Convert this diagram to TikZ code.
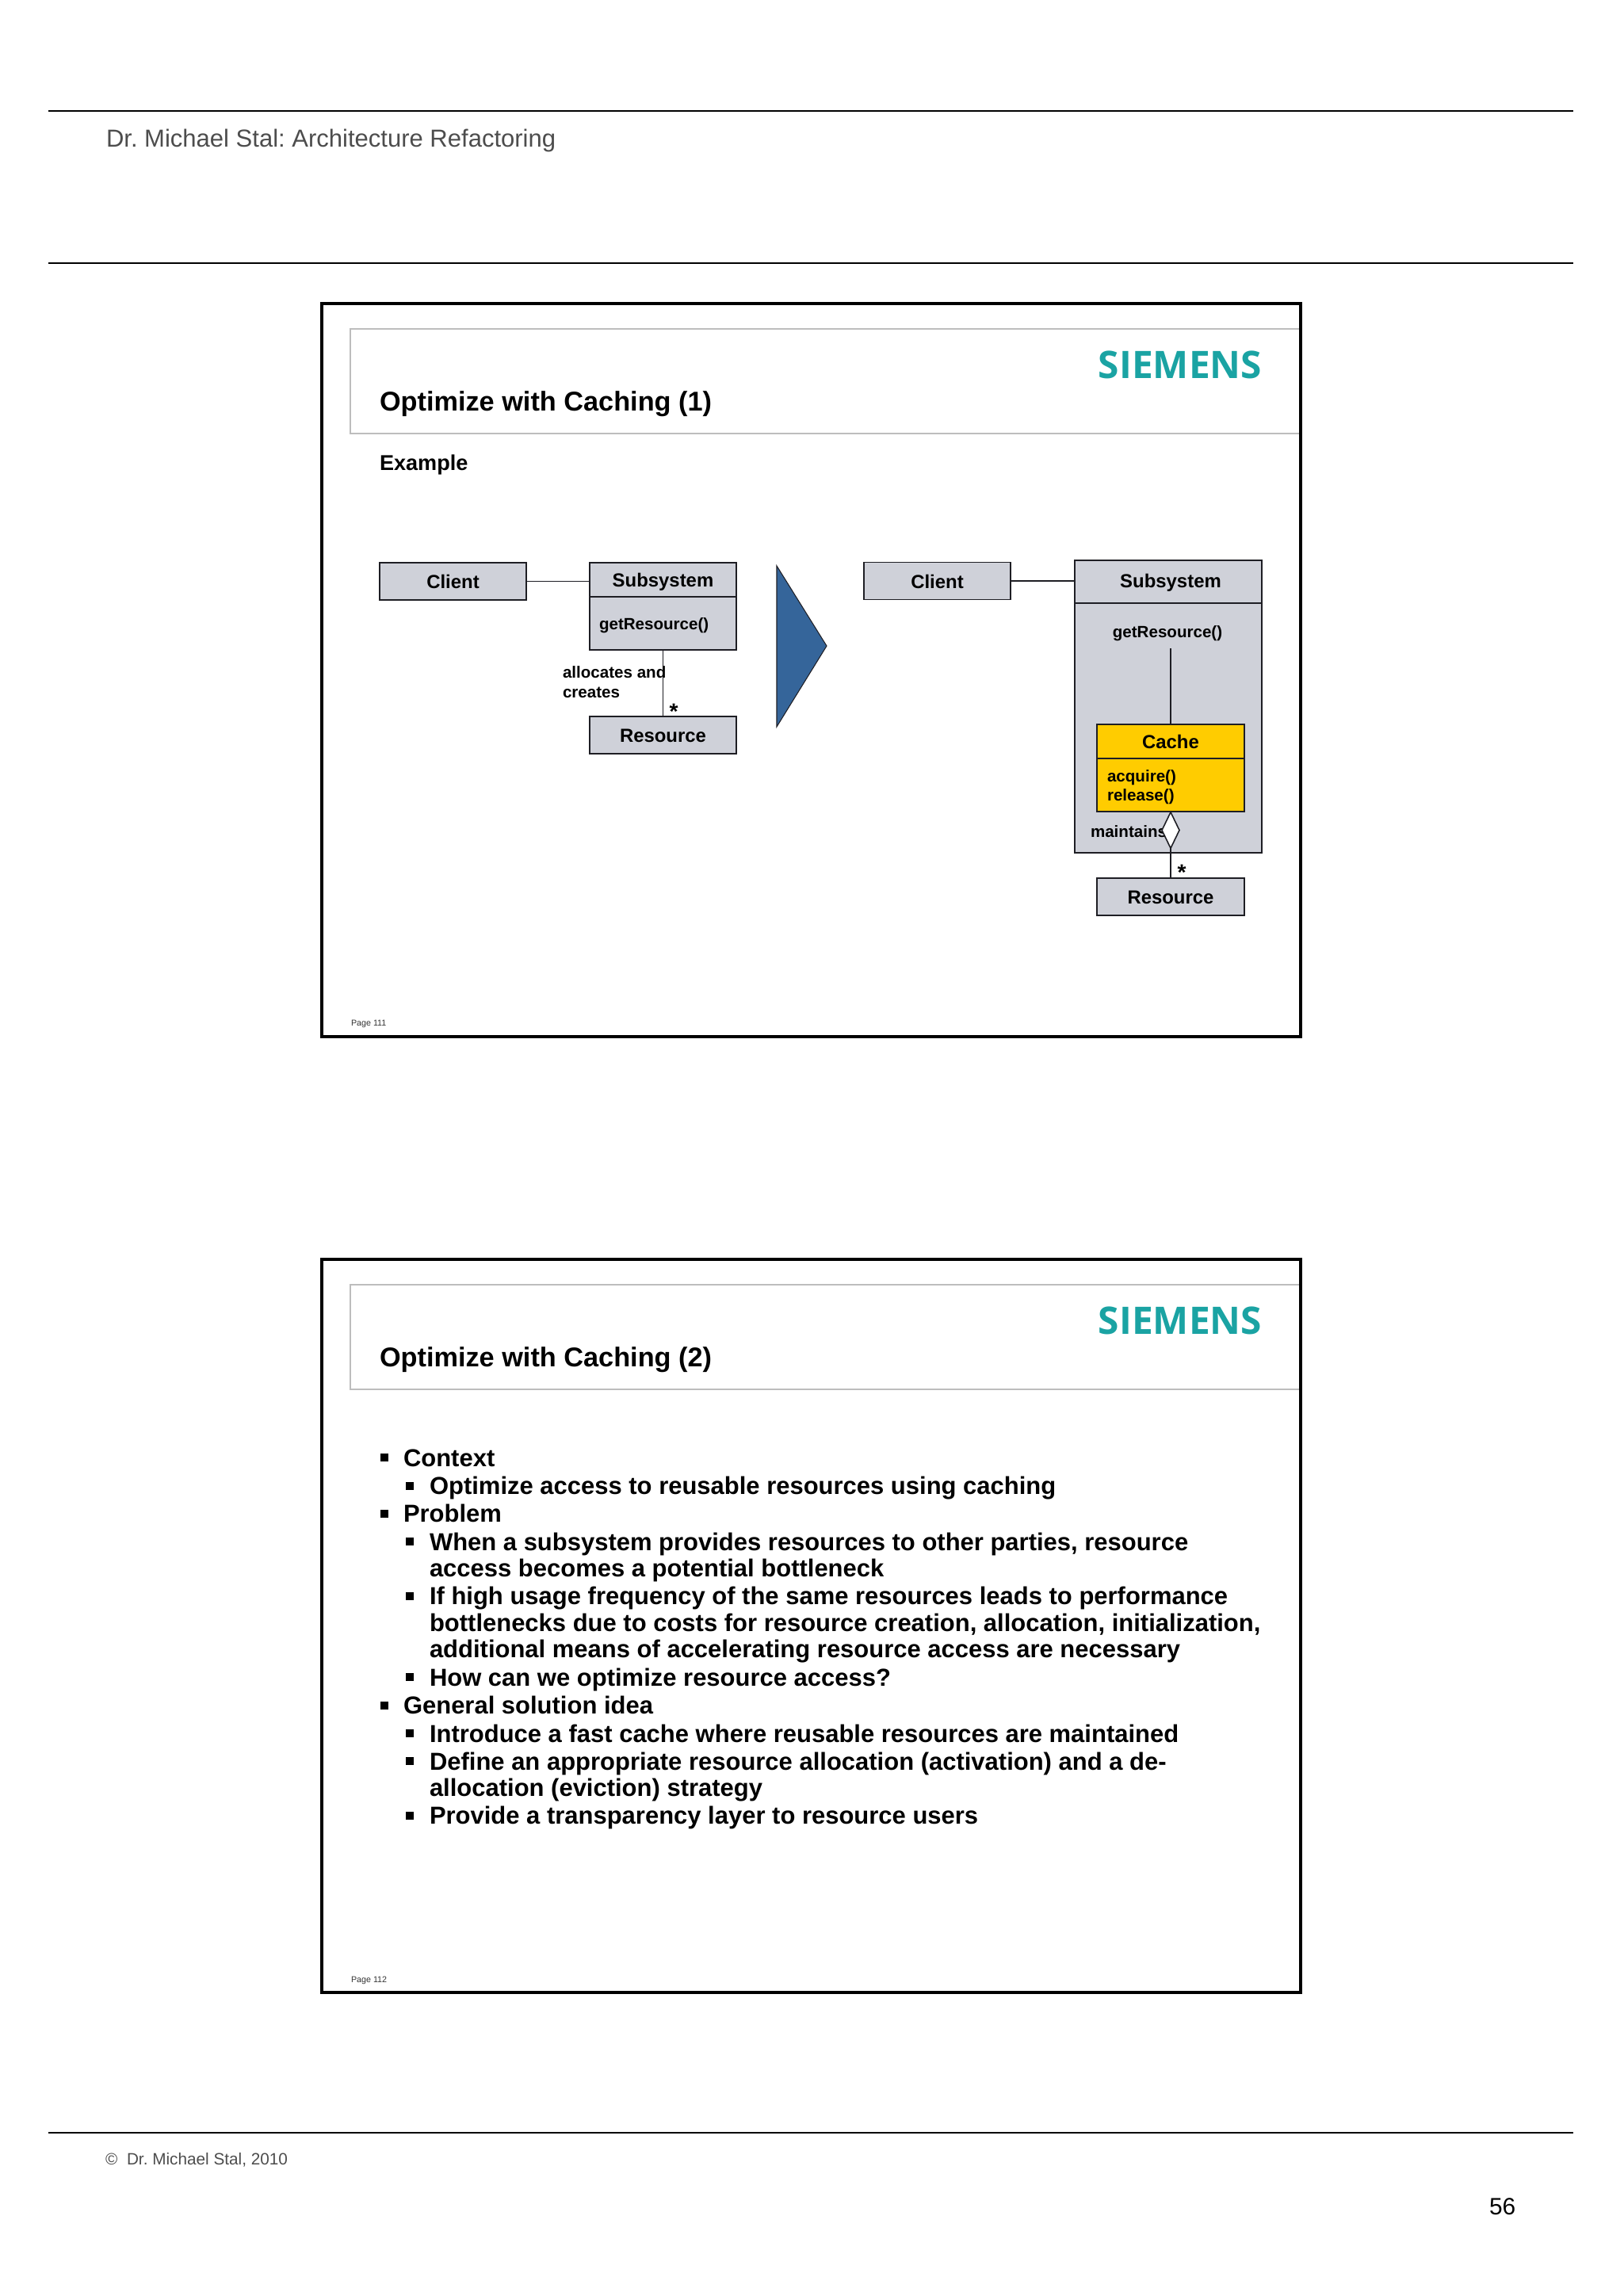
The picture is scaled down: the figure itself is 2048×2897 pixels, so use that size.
\documentclass[tikz,border=0pt]{standalone}
\usepackage{fontspec}
\setmainfont{Liberation Sans}
\newfontfamily\logofont{Open Sans}
\usetikzlibrary{shapes.geometric}
\definecolor{umlgray}{HTML}{CFD1D9}
\definecolor{umledge}{HTML}{1E1E24}
\definecolor{cacheyellow}{HTML}{FFCC00}
\definecolor{arrowblue}{HTML}{35659A}
\definecolor{logoteal}{HTML}{1AA3A3}
\definecolor{headgray}{HTML}{4D4D4D}
\definecolor{titleline}{HTML}{BDBDBD}
\frenchspacing
\begin{document}
\begin{tikzpicture}[
  x=0.01cm, y=-0.01cm,
  every node/.style={inner sep=0pt, outer sep=0pt, text=black},
  rule/.style={line width=0.55pt, black},
  slideframe/.style={line width=1.25pt, black},
  titlebox/.style={line width=0.4pt, titleline},
  link/.style={line width=0.45pt, umledge},
  plain/.style={anchor=base west, font=\bfseries\fontsize{5.85}{7}\selectfont},
  titletext/.style={anchor=base west, font=\bfseries\fontsize{9.75}{11}\selectfont},
  logo/.style={anchor=base, text=logoteal, font=\logofont\bfseries\fontsize{13.6}{15}\selectfont},
  pagenum/.style={anchor=base west, text=black!80, font=\fontsize{3.05}{3.5}\selectfont},
  umlbox/.style={rectangle, draw=umledge, line width=0.55pt, fill=umlgray, minimum width=1.85cm, minimum height=0.47cm, text height=0.18cm, text depth=0pt, font=\bfseries\fontsize{6.8}{8}\selectfont},
  star/.style={anchor=base, font=\bfseries\fontsize{8}{9}\selectfont},
  lvlone/.style={anchor=base west, font=\bfseries\fontsize{8.81}{10}\selectfont},
  lvltwo/.style={anchor=base west, font=\bfseries\fontsize{8.81}{10}\selectfont},
  bulletmark/.style={rectangle, fill=black, minimum size=0.1cm},
]
\useasboundingbox (0,0) rectangle (2048,2897);

% Page head and foot
\coordinate (headl) at (61,140);
\coordinate (headr) at (1985,140);
\coordinate (midl) at (61,332);
\coordinate (midr) at (1985,332);
\coordinate (footl) at (61,2691);
\coordinate (footr) at (1985,2691);
\draw[rule] (headl) -- (headr);
\draw[rule] (midl) -- (midr);
\draw[rule] (footl) -- (footr);
\node[anchor=base west, text=headgray, font=\fontsize{8.82}{10}\selectfont] (pagehead) at (134,185.5) {Dr. Michael Stal: Architecture Refactoring};
\node[anchor=base west, text=headgray, font=\fontsize{5.9}{7}\selectfont] (copyr) at (133,2731) {©};
\node[anchor=base west, text=headgray, font=\fontsize{5.9}{7}\selectfont] (pagefoot) at (160,2731) {Dr. Michael Stal, 2010};
\node[anchor=base west, font=\fontsize{8.5}{10}\selectfont] (pageno) at (1879,2794) {56};

% Slide 1 (top)
\draw[titlebox] (1640,415) -- (442,415) -- (442,547) -- (1640,547);
\draw[slideframe] (406,383) rectangle (1641,1308);
\node[titletext] (title1) at (479,518) {Optimize with Caching (1)};
\node[logo] (logo1) at (1489,477) {SIEMENS};
\node[anchor=base west, font=\bfseries\fontsize{7.7}{9}\selectfont] (example) at (479,593) {Example};
\node[pagenum] (page1) at (443,1294) {Page 111};

% before
\node[umlbox] (client1) at (571.5,733.5) {Client};
\node[umlbox, minimum height=0.43cm] (subhead1) at (836.5,731.5) {Subsystem};
\node[umlbox, minimum height=0.67cm] (subbody1) at (836.5,786.5) {};
\node[plain] (getres1) at (756,794) {getResource()};
\node[umlbox] (res1) at (836.5,927.5) {Resource};
\draw[link] (client1) -- (client1 -| subhead1.west);
\draw[link] (subbody1) -- (res1);
\node[plain] (alloc1) at (710,855) {allocates and};
\node[plain] (alloc2) at (710,880) {creates};
\node[star] (star1) at (850,907) {*};

% refactoring arrow
\draw[fill=arrowblue, draw=umledge, line width=0.3pt] (980,714) -- (1043,815) -- (980,917) -- cycle;

% after
\node[umlbox] (client2) at (1182.5,733) {Client};
\node[umlbox, minimum width=2.355cm, minimum height=0.54cm, text height=0.14cm] (subhead2) at (1474,734) {\hspace*{0.06cm}Subsystem};
\node[umlbox, minimum width=2.355cm, minimum height=3.15cm] (subbody2) at (1474,918.5) {};
\node[plain, anchor=base] (getres2) at (1473,804) {getResource()};
\coordinate (getresend) at (1477,818);
\node[umlbox, fill=cacheyellow, minimum height=0.43cm] (cachehead) at (1477,935.5) {Cache};
\node[umlbox, fill=cacheyellow, minimum height=0.675cm] (cachebody) at (1477,990.5) {};
\node[plain] (acquire) at (1397,986) {acquire()};
\node[plain] (release) at (1397,1010.5) {release()};
\node[plain] (maintains) at (1376,1056) {maintains};
\node[diamond, draw=umledge, line width=0.45pt, fill=white, minimum width=0.22cm, minimum height=0.455cm] (aggr) at (1477,1047.5) {};
\node[umlbox] (res2) at (1477,1131.5) {Resource};
\draw[link] (client2) -- (client2 -| subhead2.west);
\draw[link] (getresend) -- (cachehead);
\draw[link] (aggr) -- (res2);
\node[star] (star2) at (1491,1110) {*};

% Slide 2 (bottom)
\draw[titlebox] (1640,1621) -- (442,1621) -- (442,1753) -- (1640,1753);
\draw[slideframe] (406,1589) rectangle (1641,2514);
\node[titletext] (title2) at (479,1724) {Optimize with Caching (2)};
\node[logo] (logo2) at (1489,1683) {SIEMENS};
\node[pagenum] (page2) at (443,2501) {Page 112};

% bullets
\node[bulletmark] (m1) at (484.5,1839) {};
\node[lvlone] (ctx) at (509,1850) {Context};
\node[bulletmark] (m2) at (516.5,1874.5) {};
\node[lvltwo] (ctxa) at (542,1885) {Optimize access to reusable resources using caching};
\node[bulletmark] (m3) at (484.5,1910) {};
\node[lvlone] (prob) at (509,1920.5) {Problem};
\node[bulletmark] (m4) at (516.5,1945) {};
\node[lvltwo] (proba) at (542,1956) {When a subsystem provides resources to other parties, resource};
\node[lvltwo] (probb) at (542,1989.5) {access becomes a potential bottleneck};
\node[bulletmark] (m5) at (516.5,2014) {};
\node[lvltwo] (probc) at (542,2024.5) {If high usage frequency of the same resources leads to performance};
\node[lvltwo] (probd) at (542,2058) {bottlenecks due to costs for resource creation, allocation, initialization,};
\node[lvltwo] (probe) at (542,2091.5) {additional means of accelerating resource access are necessary};
\node[bulletmark] (m6) at (516.5,2116) {};
\node[lvltwo] (probf) at (542,2127) {How can we optimize resource access?};
\node[bulletmark] (m7) at (484.5,2151.5) {};
\node[lvlone] (sol) at (509,2162.5) {General solution idea};
\node[bulletmark] (m8) at (516.5,2187) {};
\node[lvltwo] (sola) at (542,2198) {Introduce a fast cache where reusable resources are maintained};
\node[bulletmark] (m9) at (516.5,2222) {};
\node[lvltwo] (solb) at (542,2233) {Define an appropriate resource allocation (activation) and a de-};
\node[lvltwo] (solc) at (542,2266) {allocation (eviction) strategy};
\node[bulletmark] (m10) at (516.5,2291) {};
\node[lvltwo] (sold) at (542,2301) {Provide a transparency layer to resource users};

\end{tikzpicture}
\end{document}
